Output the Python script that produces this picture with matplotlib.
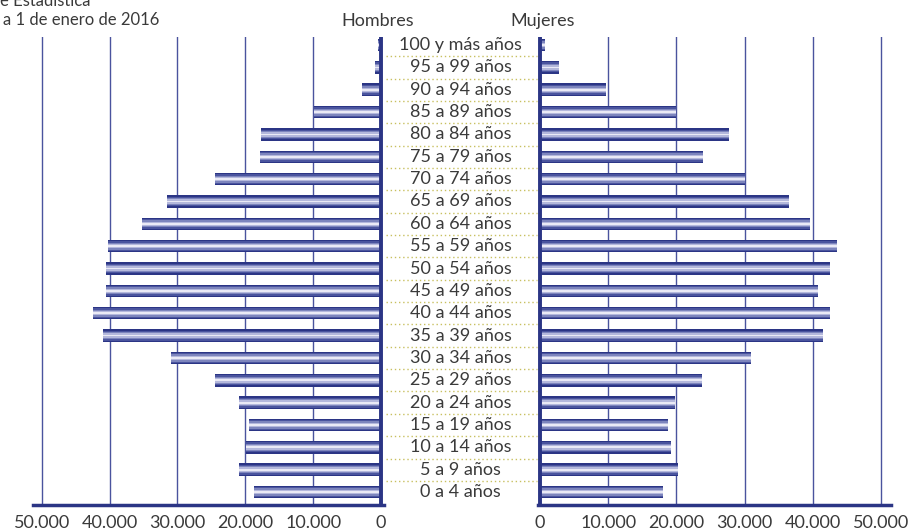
import matplotlib.pyplot as plt

plt.rcParams['font.family'] = ['Lato', 'DejaVu Sans']

# grupos de edad, de abajo hacia arriba
grupos = ["0 a 4 años", "5 a 9 años", "10 a 14 años", "15 a 19 años", "20 a 24 años",
          "25 a 29 años", "30 a 34 años", "35 a 39 años", "40 a 44 años", "45 a 49 años",
          "50 a 54 años", "55 a 59 años", "60 a 64 años", "65 a 69 años", "70 a 74 años",
          "75 a 79 años", "80 a 84 años", "85 a 89 años", "90 a 94 años", "95 a 99 años",
          "100 y más años"]

hombres = [18700, 20900, 19900, 19500, 20900, 24500, 31000, 41000, 42500, 40600,
           40600, 40300, 35300, 31600, 24500, 17800, 17700, 9900, 2800, 900, 400]
mujeres = [18000, 20200, 19200, 18800, 19800, 23800, 30900, 41500, 42500, 40800,
           42500, 43500, 39600, 36500, 30000, 23900, 27700, 19900, 9700, 2800, 700]

ticks = [0, 10000, 20000, 30000, 40000, 50000]
tick_labels = ["0", "10.000", "20.000", "30.000", "40.000", "50.000"]

navy = '#2b3585'
grid_col = '#4a539e'
text_col = '#3a3a3a'
capas = [('#2b3585', 0.56), ('#4a549e', 0.44), ('#7d85bd', 0.32), ('#b4b8dc', 0.2), ('#eaeaf6', 0.08)]

W, H = 911, 531
fig = plt.figure(figsize=(W / 100, H / 100), dpi=100)


def rect(x0, x1, y0=37, y1=505):
    return [x0 / W, (H - y1) / H, (x1 - x0) / W, (y1 - y0) / H]


ylim = (-0.58, 20.36)
y = list(range(len(grupos)))

ax_h = fig.add_axes(rect(33, 384))
ax_m = fig.add_axes(rect(538, 891))
ax_c = fig.add_axes(rect(381, 540))

for ax, datos, lim in [(ax_h, hombres, (51300, -450)), (ax_m, mujeres, (-300, 51470))]:
    for col, h in capas:
        ax.barh(y, datos, height=h, color=col, zorder=3)
    ax.set_xlim(*lim)
    ax.set_ylim(*ylim)
    ax.set_xticks(ticks)
    ax.set_xticklabels(tick_labels, fontsize=13, color=text_col)
    ax.tick_params(axis='x', length=0, pad=7)
    ax.set_yticks([])
    ax.grid(axis='x', color=grid_col, lw=1, zorder=1)
    for s in ['top', 'left', 'right']:
        ax.spines[s].set_visible(False)
    ax.spines['bottom'].set_color(navy)
    ax.spines['bottom'].set_linewidth(2.5)
    ax.axvline(0, color=navy, lw=2.8, zorder=4)

ax_c.set_xlim(0, 1)
ax_c.set_ylim(*ylim)
ax_c.axis('off')
for i, g in enumerate(grupos):
    ax_c.text(0.5, i, g, ha='center', va='center', fontsize=13, color=text_col)
for i in range(len(grupos) - 1):
    ax_c.plot([0.03, 0.98], [i + 0.5, i + 0.5], ls=(0, (1, 2)), color='#c8c060', lw=1)

fig.text(378 / W, 1 - 21 / H, "Hombres", ha='center', va='center', fontsize=13, color=text_col)
fig.text(543 / W, 1 - 21 / H, "Mujeres", ha='center', va='center', fontsize=13, color=text_col)
fig.text(0 / W, 1 - 1 / H, "e Estadística", ha='left', va='center', fontsize=12, color=text_col)
fig.text(3 / W, 1 - 20 / H, "a 1 de enero de 2016", ha='left', va='center', fontsize=12, color=text_col)

fig.savefig('out.png', dpi=100)
